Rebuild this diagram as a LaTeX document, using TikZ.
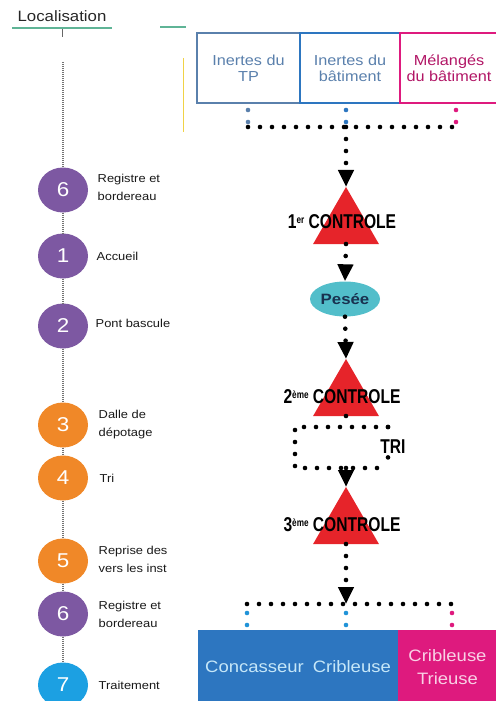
\documentclass[tikz,border=0pt]{standalone}
\usepackage{fontspec}
\setmainfont[FakeStretch=1.12]{Liberation Sans}
\newfontfamily\ctlfont[FakeStretch=0.78]{Liberation Sans}
\usetikzlibrary{positioning, arrows.meta, calc, shapes.geometric}

\definecolor{cViolet}{RGB}{125,88,162}
\definecolor{cOrange}{RGB}{240,136,40}
\definecolor{cCiel}{RGB}{28,160,226}
\definecolor{cAcier}{RGB}{90,128,172}
\definecolor{cBleu}{RGB}{45,118,192}
\definecolor{cRose}{RGB}{222,26,126}
\definecolor{cRouge}{RGB}{230,36,42}
\definecolor{cTurquoise}{RGB}{82,190,202}
\definecolor{cMarine}{RGB}{25,50,80}
\definecolor{cVert}{RGB}{95,180,150}
\definecolor{cJaune}{RGB}{240,210,70}

\newcommand{\expo}[1]{\raisebox{5pt}{\fontsize{10.5}{10.5}\selectfont #1}}

\begin{document}
\begin{tikzpicture}[x=1pt, y=-1pt, >=latex,
    etape/.style={ellipse, minimum width=50pt, minimum height=45pt, inner sep=0pt,
        text=white, font=\fontsize{20}{20}\selectfont},
    legende/.style={align=left, font=\fontsize{11.5}{18}\selectfont, text=black!90},
    vpoint/.style={black!55, line width=1.2pt, dash pattern=on 0.8pt off 1.2pt},
    pointille/.style={line width=4.6pt, line cap=round, dash pattern=on 0pt off 12pt},
    flux/.style={pointille, -{Triangle[width=15pt,length=17pt]}},
    controle/.style={regular polygon, regular polygon sides=3, minimum size=76pt,
        inner sep=0pt, outer sep=0pt, fill=cRouge},
    titrectl/.style={font=\ctlfont\bfseries\fontsize{20}{20}\selectfont},
    caisse/.style={draw, line width=2pt, minimum height=70pt, align=center,
        font=\fontsize{14.5}{16}\selectfont, inner sep=0pt},
    bac/.style={minimum height=74pt, align=center, font=\fontsize{16.5}{23}\selectfont, inner sep=0pt},
]
    \useasboundingbox (0,0) rectangle (495,701);

    % Colonne de gauche : localisation
    \node[font=\fontsize{15}{15}\selectfont, text=black!85] (loc) at (62,16) {Localisation};
    \draw[cVert, line width=1.6pt] (12,28) -- (112,28);
    \draw[black!60, line width=0.8pt] (62,29) -- (62,37);
    \draw[cVert, line width=1.6pt] (160,27) -- (186,27);
    \draw[cJaune, line width=1pt] (183,58) -- (183,132);

    % Etapes
    \coordinate (haut) at (63,62);
    \node[etape, fill=cViolet] (e6a) at (63,190) {6};
    \node[etape, fill=cViolet] (e1) at (63,256) {1};
    \node[etape, fill=cViolet] (e2) at (63,326) {2};
    \node[etape, fill=cOrange] (e3) at (63,425) {3};
    \node[etape, fill=cOrange] (e4) at (63,478) {4};
    \node[etape, fill=cOrange] (e5) at (63,561) {5};
    \node[etape, fill=cViolet] (e6b) at (63,614) {6};
    \node[etape, fill=cCiel] (e7) at (63,685) {7};

    \draw[vpoint] (haut) -- (e6a);
    \draw[vpoint] (e6a) -- (e1);
    \draw[vpoint] (e1) -- (e2);
    \draw[vpoint] (e2) -- (e3);
    \draw[vpoint] (e3) -- (e4);
    \draw[vpoint] (e4) -- (e5);
    \draw[vpoint] (e5) -- (e6b);
    \draw[vpoint] (e6b) -- (e7);

    \node[legende, right=6pt of e6a, yshift=3pt] (l6a) {Registre et\\bordereau};
    \node[legende, right=5pt of e1] (l1) {Accueil};
    \node[legende, right=4pt of e2, yshift=3pt] (l2) {Pont bascule};
    \node[legende, right=7pt of e3] (l3) {Dalle de\\dépotage};
    \node[legende, right=8pt of e4] (l4) {Tri};
    \node[legende, right=7pt of e5, yshift=2pt] (l5) {Reprise des\\vers les inst};
    \node[legende, right=7pt of e6b] (l6b) {Registre et\\bordereau};
    \node[legende, right=7pt of e7] (l7) {Traitement};

    % Flux de droite : apports
    \node[caisse, draw=cAcier, text=cAcier, minimum width=103pt] (b1) at (248.5,68) {Inertes du\\TP};
    \node[caisse, draw=cBleu, text=cAcier, minimum width=100pt] (b2) at (350,68) {Inertes du\\bâtiment};
    \node[caisse, draw=cRose, text=cRose!80!black, minimum width=98pt] (b3) at (449,68) {Mélangés\\du bâtiment};

    \coordinate (j1) at (248,127);
    \coordinate (j2) at (346,127);
    \coordinate (j3) at (456,127);
    \draw[pointille, cAcier, shorten <=6pt] (b1.south -| j1) -- (j1);
    \draw[pointille, cBleu, shorten <=6pt] (b2.south -| j2) -- (j2);
    \draw[pointille, cRose, shorten <=6pt] (b3.south -| j3) -- (j3);
    \draw[pointille] (j1) -- (j3);

    % Controles
    \node[controle] (t1) at (346,225) {};
    \node[titrectl] (c1) at ([xshift=-4pt, yshift=3pt]t1.center) {1\expo{er} CONTROLE};
    \node[ellipse, fill=cTurquoise, minimum width=70pt, minimum height=35pt, inner sep=0pt,
        font=\bfseries\fontsize{15}{15}\selectfont, text=cMarine] (pes) at (345,299) {Pesée};
    \node[controle] (t2) at (346,397) {};
    \node[titrectl] (c2) at ([xshift=-4pt]t2.center) {2\expo{ème} CONTROLE};
    \node[controle] (t3) at (346,525) {};
    \node[titrectl] (c3) at ([xshift=-4pt]t3.center) {3\expo{ème} CONTROLE};

    \draw[flux] (j2) -- (t1.north);
    \draw[flux] (t1.south) -- (pes.north);
    \draw[flux] (pes.south) -- (t2.north);

    % Boucle de tri
    \coordinate (m2) at (346,427);
    \coordinate (r1) at (295,427);
    \coordinate (r2) at (388,427);
    \coordinate (r3) at (388,468);
    \coordinate (r4) at (295,468);
    \coordinate (m3) at (346,468);
    \node[titrectl] (tri) at (393,447) {TRI};
    \draw[pointille] (t2.south) -- (m2);
    \draw[pointille] (r2) -- (r1) -- (r4) -- (r3);
    \draw[pointille] (r2) -- (r2 |- tri.north);
    \draw[pointille] (r3 |- tri.south) -- (r3);
    \draw[flux] (m3) -- (t3.north);

    % Installations
    \node[bac, fill=cBleu, text=cCiel!25, minimum width=200pt] (bc) at (298,667) {Concasseur\hspace{9pt}Cribleuse};
    \node[bac, fill=cRose, text=cRose!20, minimum width=99pt] (bp) at (447.5,667) {Cribleuse\\Trieuse};

    \coordinate (k1) at (247,604);
    \coordinate (k2) at (346,604);
    \coordinate (k3) at (452,604);
    \draw[flux] (t3.south) -- (k2);
    \draw[pointille] (k1) -- (k3);
    \draw[pointille, cCiel!70!cBleu, shorten <=9pt] (k1) -- (bc.north -| k1);
    \draw[pointille, cCiel!70!cBleu, shorten <=9pt] (k2) -- (bc.north -| k2);
    \draw[pointille, cRose, shorten <=9pt] (k3) -- (bp.north -| k3);
\end{tikzpicture}
\end{document}
